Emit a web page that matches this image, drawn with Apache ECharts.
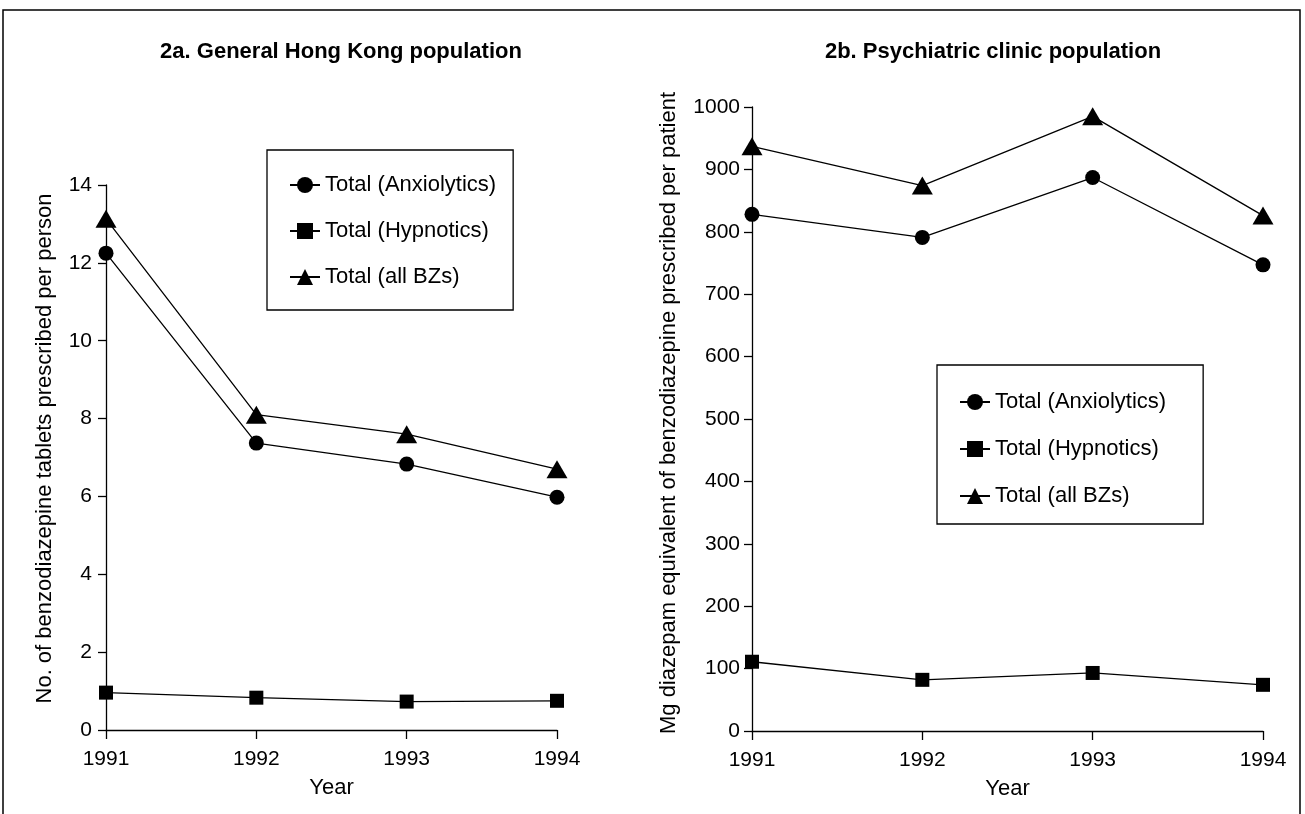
<!DOCTYPE html>
<html><head><meta charset="utf-8">
<script src="https://cdn.jsdelivr.net/npm/echarts@6/dist/echarts.min.js"></script>
<style>html,body{margin:0;padding:0;background:#fff}#c{width:1305px;height:814px}</style>
</head><body><div id="c"></div>
<script>
const years = ['1991', '1992', '1993', '1994'];
const seriesNames = ['Total (Anxiolytics)', 'Total (Hypnotics)', 'Total (all BZs)'];
const hkAnxiolytics = [12.25, 7.37, 6.83, 5.98];
const hkHypnotics = [0.96, 0.83, 0.73, 0.75];
const hkAllBZ = [13.13, 8.1, 7.6, 6.7];
const clinicAnxiolytics = [828, 791, 887, 747];
const clinicHypnotics = [111, 82, 93, 74];
const clinicAllBZ = [937, 874, 985, 826];

const FONT = "'Liberation Sans', Arial, sans-serif";
const chart = echarts.init(document.getElementById('c'), null, {renderer: 'canvas'});
const black = '#000';
const symbols = ['circle', 'rect', 'triangle'];
const sizes = [15, 14, [21, 18]];

function axisX(gi) {
  return {
    type: 'category', gridIndex: gi, data: years, boundaryGap: false,
    name: 'Year', nameLocation: 'middle', nameGap: 47,
    nameTextStyle: {fontFamily: FONT, fontSize: 22, color: black},
    axisLine: {lineStyle: {color: black, width: 1.3}},
    axisTick: {alignWithLabel: true, length: 9, lineStyle: {color: black, width: 1.3}},
    axisLabel: {fontFamily: FONT, fontSize: 21, color: black, margin: 19},
    splitLine: {show: false}
  };
}
function axisY(gi, max, interval, name, gap, margin, shift) {
  return {
    type: 'value', gridIndex: gi, min: 0, max: max, interval: interval,
    name: name, nameLocation: 'middle', nameGap: gap,
    nameTextStyle: {fontFamily: FONT, fontSize: 22, color: black, padding: [0, 0, 0, shift]},
    axisLine: {show: true, lineStyle: {color: black, width: 1.3}},
    axisTick: {show: true, length: 8, lineStyle: {color: black, width: 1.3}},
    axisLabel: {fontFamily: FONT, fontSize: 21, color: black, margin: margin,
                formatter: v => String(v)},
    splitLine: {show: false}
  };
}
function mk(gi, name, data, k) {
  return {
    type: 'line', name: name, xAxisIndex: gi, yAxisIndex: gi, data: data,
    symbol: symbols[k], symbolSize: sizes[k], showSymbol: true,
    lineStyle: {color: black, width: 1.3}, itemStyle: {color: black},
    animation: false, z: 3
  };
}
function legend(left, top, padding, gap) {
  return {
    data: seriesNames, orient: 'vertical', left: left, top: top,
    borderColor: black, borderWidth: 1.3, padding: padding,
    itemGap: gap, itemWidth: 30, itemHeight: 20,
    textStyle: {fontFamily: FONT, fontSize: 22, color: black},
    selectedMode: false
  };
}

chart.setOption({
  backgroundColor: '#fff',
  animation: false,
  title: [
    {text: '2a. General Hong Kong population', left: 336, top: 36, textAlign: 'center',
     textStyle: {fontFamily: FONT, fontSize: 22, fontWeight: 'bold', color: black}},
    {text: '2b. Psychiatric clinic population', left: 988, top: 36, textAlign: 'center',
     textStyle: {fontFamily: FONT, fontSize: 22, fontWeight: 'bold', color: black}}
  ],
  legend: [legend(267, 150, [24, 17, 22, 22], 24), legend(937, 365, [26, 37, 17, 22], 25)],
  grid: [
    {left: 106, right: 748, top: 185, bottom: 84},
    {left: 752, right: 42, top: 107, bottom: 83}
  ],
  xAxis: [axisX(0), axisX(1)],
  yAxis: [
    axisY(0, 14, 2, 'No. of benzodiazepine tablets prescribed per person', 50, 14, 18),
    axisY(1, 1000, 100, 'Mg diazepam equivalent of benzodiazepine prescribed per patient', 72, 12, 12)
  ],
  series: [
    mk(0, seriesNames[0], hkAnxiolytics, 0),
    mk(0, seriesNames[1], hkHypnotics, 1),
    mk(0, seriesNames[2], hkAllBZ, 2),
    mk(1, seriesNames[0], clinicAnxiolytics, 0),
    mk(1, seriesNames[1], clinicHypnotics, 1),
    mk(1, seriesNames[2], clinicAllBZ, 2)
  ],
  graphic: [
    {type: 'polyline', shape: {points: [[3, 814], [3, 10], [1300, 10], [1300, 814]]},
     style: {stroke: black, lineWidth: 1.5, fill: null}, silent: true}
  ]
});
</script>
</body></html>
